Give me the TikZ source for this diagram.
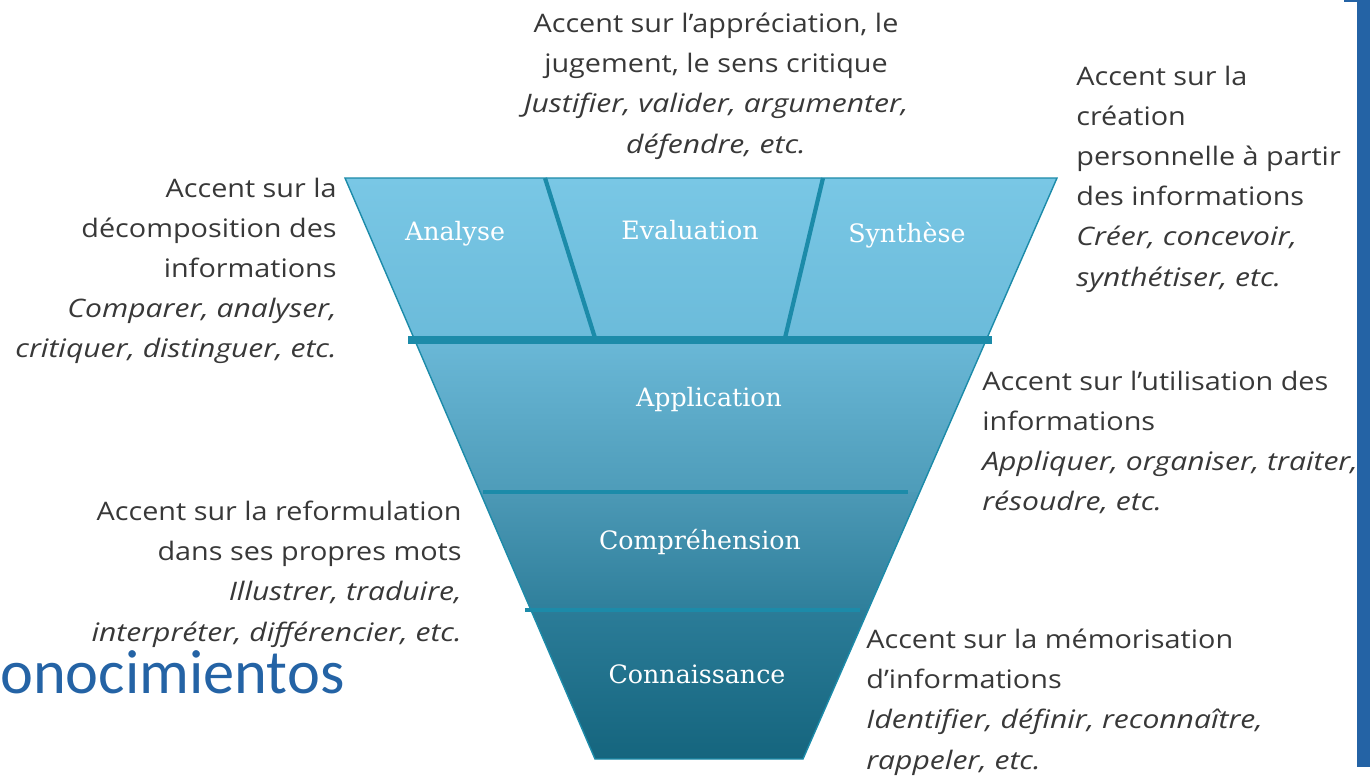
\documentclass[tikz,border=0pt]{standalone}
\usepackage{fontspec}
\setmainfont{Open Sans}[FakeStretch=1.13,ItalicFeatures={FakeStretch=1.18}]
\newfontfamily\slabfont{DejaVu Serif}
\newfontfamily\titlefont{Carlito}
\definecolor{textogris}{HTML}{383838}
\definecolor{linea}{HTML}{1C8BA9}
\definecolor{azulbarra}{HTML}{2463A5}
\definecolor{nivelAa}{HTML}{79C7E5}
\definecolor{nivelAb}{HTML}{6BBBDA}
\definecolor{nivelBa}{HTML}{6AB8D7}
\definecolor{nivelBb}{HTML}{4E9CB9}
\definecolor{nivelCa}{HTML}{4C99B6}
\definecolor{nivelCb}{HTML}{2F7F9B}
\definecolor{nivelDa}{HTML}{2B7C98}
\definecolor{nivelDb}{HTML}{15657E}
\tikzset{
    accent/.style={inner sep=0pt,text=textogris,font=\fontsize{14.5}{22.8}\selectfont},
    nivel/.style={anchor=base,inner sep=0pt,text=white,font=\slabfont\fontsize{14.4}{17}\selectfont},
    raya/.style={draw=linea,line cap=butt}
}
\begin{document}
\begin{tikzpicture}[x=0.02cm,y=-0.02cm]
\useasboundingbox (0,0) rectangle (1370,775);

%Esquinas del embudo
\coordinate (a1) at (345,178);  \coordinate (a2) at (1057,178);
\coordinate (b1) at (415,340);  \coordinate (b2) at (986,340);
\coordinate (c1) at (480,492);  \coordinate (c2) at (920,492);
\coordinate (d1) at (531,610);  \coordinate (d2) at (868,610);
\coordinate (e1) at (595,759);  \coordinate (e2) at (803,759);

%Niveles
\shade[top color=nivelAa,bottom color=nivelAb] (a1)--(a2)--(b2)--(b1)--cycle;
\shade[top color=nivelBa,bottom color=nivelBb] (b1)--(b2)--(c2)--(c1)--cycle;
\shade[top color=nivelCa,bottom color=nivelCb] (c1)--(c2)--(d2)--(d1)--cycle;
\shade[top color=nivelDa,bottom color=nivelDb] (d1)--(d2)--(e2)--(e1)--cycle;
\draw[linea,line width=0.8pt] (a1)--(a2)--(e2)--(e1)--cycle;

%Separaciones
\draw[raya,line width=2.4pt] (545,178) -- (595,338);
\draw[raya,line width=2.4pt] (823,178) -- (785,338);
\draw[raya,line width=4.5pt] (408,340) -- (992,340);
\draw[raya,line width=2.8pt] (483,492) -- (908,492);
\draw[raya,line width=2.8pt] (525,610) -- (860,610);

%Nombres de los niveles
\node[nivel] (analyse) at (455,240) {Analyse};
\node[nivel] (evaluation) at (690,239) {Evaluation};
\node[nivel] (synthese) at (907,242) {Synthèse};
\node[nivel] (application) at (709,406) {Application};
\node[nivel] (comprehension) at (700,549) {Compréhension};
\node[nivel] (connaissance) at (697,683) {Connaissance};

%Textos
\node[accent,anchor=north,align=center] (tEval) at (716,13)
    {Accent sur l’appréciation, le\\jugement, le sens critique\\
     \textit{Justifier, valider, argumenter,}\\\textit{défendre, etc.}};
\node[accent,anchor=north east,align=right] (tAnal) at (337,178)
    {Accent sur la\\décomposition des\\informations\\
     \textit{Comparer, analyser,}\\\textit{critiquer, distinguer, etc.}};
\node[accent,anchor=north west,align=left] (tSynt) at (1076,66)
    {Accent sur la\\création\\personnelle à partir\\des informations\\
     \textit{Créer, concevoir,}\\\textit{synthétiser, etc.}};
\node[accent,anchor=north west,align=left] (tAppl) at (982,371)
    {Accent sur l’utilisation des\\informations\\
     \textit{Appliquer, organiser, traiter,}\\\textit{résoudre, etc.}};
\node[accent,anchor=north east,align=right] (tComp) at (462,501)
    {Accent sur la reformulation\\dans ses propres mots\\
     \textit{Illustrer, traduire,}\\\textit{interpréter, différencier, etc.}};
\node[accent,anchor=north west,align=left] (tConn) at (866,629)
    {Accent sur la mémorisation\\d’informations\\
     \textit{Identifier, définir, reconnaître,}\\\textit{rappeler, etc.}};

%Titulo cortado y barra lateral
\node[anchor=base west,inner sep=0pt,text=azulbarra,font=\titlefont\fontsize{35.5}{40}\selectfont] (titulo) at (0,693) {onocimientos};
\fill[azulbarra] (1357,0) rectangle (1370,767);
\fill[azulbarra] (1344,0) rectangle (1357,2);
\end{tikzpicture}
\end{document}
